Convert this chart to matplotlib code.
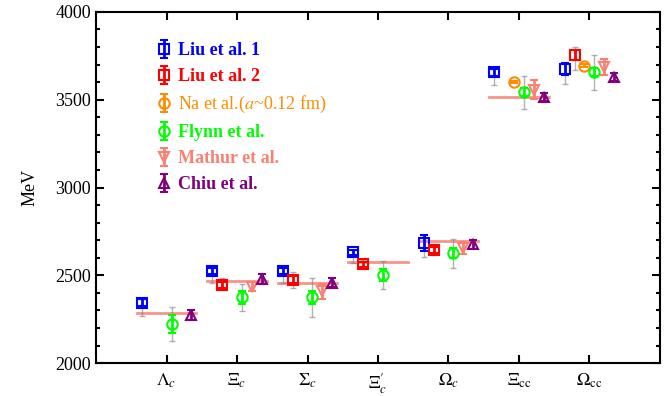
"""Charmed baryon masses: lattice results vs experiment."""
import numpy as np
import matplotlib
matplotlib.use("Agg")
import matplotlib.pyplot as plt
from matplotlib.ticker import MultipleLocator

plt.rcParams["font.family"] = ["Liberation Serif", "DejaVu Serif"]
plt.rcParams["mathtext.fontset"] = "stix"

nan = np.nan

categories = [r"$\Lambda_c$", r"$\Xi_c$", r"$\Sigma_c$", r"$\Xi_c^{\prime}$",
              r"$\Omega_c$", r"$\Xi_{\mathrm{cc}}$", r"$\Omega_{\mathrm{cc}}$"]
exp_mass = [2287, 2468, 2456, 2576, 2697, 3518, nan]

labels = ["Liu et al. 1", "Liu et al. 2", r"Na et al.($a$~0.12 fm)",
          "Flynn et al.", "Mathur et al.", "Chiu et al."]
colors = ["blue", "red", "darkorange", "lime", "salmon", "purple"]
markers = ["s", "s", "o", "o", "v", "^"]
bold = [True, True, False, True, True, True]

# central values (MeV)
liu1 = [2344, 2524, 2524, 2631, 2684, 3655, 3674]
liu2 = [nan, 2445, 2476, 2563, 2644, nan, 3755]
na = [nan, nan, nan, nan, nan, 3601, 3694]
flynn = [2224, 2374, 2374, 2501, 2625, 3542, 3656]
mathur = [nan, 2436, 2408, nan, 2658, 3558, 3685]
chiu = [2274, 2478, 2458, nan, 2677, 3515, 3630]

# statistical errors
liu1_err = [20, 18, 18, 16, 47, 20, 36]
liu2_err = [nan, 15, 20, 15, 18, nan, 28]
na_err = [nan, nan, nan, nan, nan, 8, 8]
flynn_err = [52, 36, 38, 34, 28, 22, 22]
mathur_err = [nan, 28, 42, nan, 34, 52, 45]
chiu_err = [26, 28, 24, nan, 26, 22, 22]

# total (stat+sys) errors, lower / upper
liu1_lo = [76, 70, 70, 59, 82, 70, 85]
liu1_hi = [20, 18, 18, 16, 47, 20, 36]
liu2_lo = [nan, 28, 46, 28, 29, nan, 85]
liu2_hi = [nan, 39, 43, 25, 32, nan, 44]
flynn_lo = [96, 76, 110, 80, 84, 93, 99]
flynn_hi = [96, 76, 110, 80, 84, 93, 99]

values = [liu1, liu2, na, flynn, mathur, chiu]
errors = [liu1_err, liu2_err, na_err, flynn_err, mathur_err, chiu_err]
total_lo = [liu1_lo, liu2_lo, None, flynn_lo, None, None]
total_hi = [liu1_hi, liu2_hi, None, flynn_hi, None, None]

x = np.arange(1, len(categories) + 1)
step = 0.14

fig = plt.figure(figsize=(6.72, 3.96), dpi=100)
ax = fig.add_axes([0.143, 0.083, 0.839, 0.887])

# experimental values
for xi, m in zip(x, exp_mass):
    if not np.isnan(m):
        ax.plot([xi - 0.42, xi + 0.42], [m, m], color="salmon", lw=2,
                alpha=0.85, zorder=1)

for i, (vals, err) in enumerate(zip(values, errors)):
    xs = x + (i - 2.5) * step
    if total_lo[i] is not None:
        ax.errorbar(xs, vals, yerr=[total_lo[i], total_hi[i]], fmt="none",
                    ecolor="gray", alpha=0.6, elinewidth=1, capsize=2,
                    zorder=2)
    ax.errorbar(xs, vals, yerr=err, fmt=markers[i], color=colors[i],
                mfc="none", mec=colors[i], ms=7.5, mew=1.5, elinewidth=2,
                capsize=3, capthick=2, label=labels[i], zorder=3)

ax.set_xlim(0, 8)
ax.set_ylim(2000, 4000)
ax.set_xticks(x)
ax.set_xticklabels(categories, fontsize=14)
ax.yaxis.set_major_locator(MultipleLocator(500))
ax.yaxis.set_minor_locator(MultipleLocator(100))
ax.tick_params(axis="both", which="both", direction="in", top=True,
               right=True, width=1.5)
ax.tick_params(axis="both", which="major", length=6, labelsize=13)
ax.tick_params(axis="y", which="minor", length=3)
ax.tick_params(axis="x", which="major", pad=6)
for s in ax.spines.values():
    s.set_linewidth(1.5)
ax.set_ylabel("MeV", fontsize=13, labelpad=12)

leg = ax.legend(loc="upper left", bbox_to_anchor=(0.078, 0.96), frameon=False,
                handlelength=0.8, handletextpad=0.4, labelspacing=0.5,
                fontsize=13)
for text, c, b in zip(leg.get_texts(), colors, bold):
    text.set_color(c)
    if b:
        text.set_fontweight("bold")

fig.savefig("out.png", dpi=100)
